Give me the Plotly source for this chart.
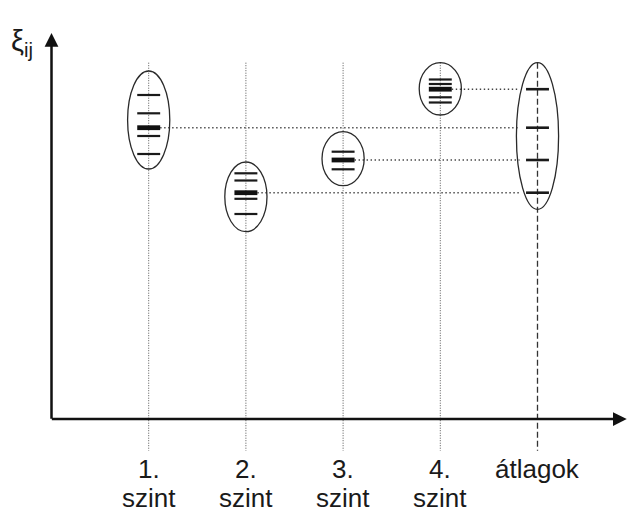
import plotly.graph_objects as go

# ---------------- data ----------------
categories = ["1.", "2.", "3.", "4.", "átlagok"]
sublabels = ["szint", "szint", "szint", "szint", ""]
positions = [1, 2, 3, 4, 5]

# individual observations per level (xi_ij)
level1 = [32.4, 30.57, 28.3, 26.5]
level2 = [24.57, 23.85, 22.02, 20.5]
level3 = [26.73, 24.97]
level4 = [33.95, 33.5, 32.17, 31.65]
levels = [level1, level2, level3, level4]

# group means (thick bars, also shown in the "átlagok" column)
means = [29.13, 22.63, 25.9, 32.98]

# ellipse vertical extents (top, bottom) for each column
ellipse_top = [34.8, 25.7, 28.73, 35.63, 35.63]
ellipse_bottom = [25.0, 18.73, 23.33, 30.4, 20.97]

axis_label = "ξ<sub>ij</sub>"

# ---------------- style constants ----------------
BAR_HALF = 0.118
ELL_HALF = 0.217
AVG_X = positions[4]
GUIDE_TOP = 35.63
GUIDE_BOTTOM = -3.17
X_RANGE = [-0.5298, 5.9208]
Y_RANGE = [-9.1, 41.9]
FONT = "Liberation Sans, Arial, sans-serif"

fig = go.Figure()

# vertical guide lines
for i, p in enumerate(positions):
    is_avg = i == 4
    fig.add_trace(go.Scatter(
        x=[p, p], y=[GUIDE_TOP, GUIDE_BOTTOM], mode="lines",
        line=dict(color="#333333" if is_avg else "#555555",
                  width=1.3 if is_avg else 1,
                  dash="6px,3px" if is_avg else "1px,1.5px"),
        hoverinfo="skip", showlegend=False))

# horizontal dotted connectors from group mean to averages column
for p, m in zip(positions[:4], means):
    fig.add_trace(go.Scatter(
        x=[p + BAR_HALF, AVG_X - 0.185], y=[m, m], mode="lines",
        line=dict(color="#444444", width=1.4, dash="1.4px,2.6px"),
        hoverinfo="skip", showlegend=False))

# thin observation bars
xs, ys = [], []
for p, vals in zip(positions[:4], levels):
    for v in vals:
        xs += [p - BAR_HALF, p + BAR_HALF, None]
        ys += [v, v, None]
fig.add_trace(go.Scatter(x=xs, y=ys, mode="lines",
                         line=dict(color="#1a1a1a", width=2.2),
                         hoverinfo="skip", showlegend=False))

# thick mean bars
xs, ys = [], []
for p, m in zip(positions[:4], means):
    xs += [p - BAR_HALF, p + BAR_HALF, None]
    ys += [m, m, None]
fig.add_trace(go.Scatter(x=xs, y=ys, mode="lines",
                         line=dict(color="#111111", width=4.8),
                         hoverinfo="skip", showlegend=False))

# averages column bars
xs, ys = [], []
for m in means:
    xs += [AVG_X - BAR_HALF, AVG_X + BAR_HALF, None]
    ys += [m, m, None]
fig.add_trace(go.Scatter(x=xs, y=ys, mode="lines",
                         line=dict(color="#1a1a1a", width=2.6),
                         hoverinfo="skip", showlegend=False))

# ellipses
for p, t, b in zip(positions, ellipse_top, ellipse_bottom):
    fig.add_shape(type="circle", xref="x", yref="y",
                  x0=p - ELL_HALF, x1=p + ELL_HALF, y0=b, y1=t,
                  line=dict(color="#2a2a2a", width=1.3))

# axes with arrows
fig.add_annotation(x=5.918, y=0, ax=-0.012, ay=0, axref="x", ayref="y",
                   xref="x", yref="y", text="", showarrow=True,
                   arrowhead=2, arrowwidth=2.5, arrowsize=1.1, arrowcolor="#111111")
fig.add_annotation(x=0, y=38.6, ax=0, ay=-0.12, axref="x", ayref="y",
                   xref="x", yref="y", text="", showarrow=True,
                   arrowhead=2, arrowwidth=2.5, arrowsize=1.1, arrowcolor="#111111")

# category labels
for p, c, s in zip(positions, categories, sublabels):
    fig.add_annotation(x=p, y=-4.97, xref="x", yref="y", text=c, showarrow=False,
                       font=dict(family=FONT, size=26, color="#1a1a1a"),
                       xanchor="center", yanchor="middle")
    if s:
        fig.add_annotation(x=p, y=-7.9, xref="x", yref="y", text=s, showarrow=False,
                           font=dict(family=FONT, size=26, color="#1a1a1a"),
                           xanchor="center", yanchor="middle")

# y axis label
fig.add_annotation(x=-0.3, y=37.6, xref="x", yref="y", text=axis_label,
                   showarrow=False, font=dict(family=FONT, size=29, color="#1a1a1a"),
                   xanchor="center", yanchor="middle")

fig.update_layout(
    width=627, height=510,
    margin=dict(l=0, r=0, t=0, b=0),
    paper_bgcolor="white", plot_bgcolor="white",
    xaxis=dict(range=X_RANGE, visible=False, fixedrange=True),
    yaxis=dict(range=Y_RANGE, visible=False, fixedrange=True),
    showlegend=False,
)

fig.write_html("out.html")
